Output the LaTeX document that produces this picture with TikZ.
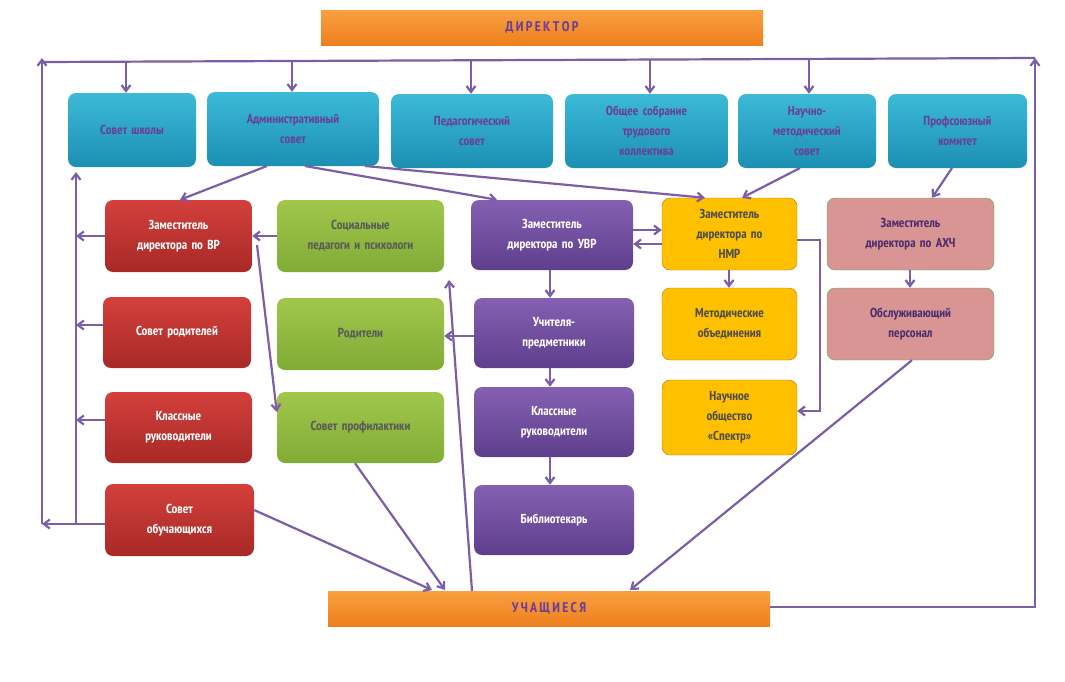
\documentclass[tikz,border=0pt]{standalone}
\usepackage{fontspec}
\setmainfont{PT Sans Narrow}[BoldFont={PT Sans Narrow Bold}]
\usetikzlibrary{arrows.meta,calc}
\definecolor{ar}{HTML}{7B5EA7}
\definecolor{txp}{HTML}{6A3D9A}
\definecolor{bl1}{HTML}{3CBAD8}\definecolor{bl2}{HTML}{1C8FB2}
\definecolor{rd1}{HTML}{D3403C}\definecolor{rd2}{HTML}{A82926}
\definecolor{gr1}{HTML}{A2C64C}\definecolor{gr2}{HTML}{80AC36}
\definecolor{pu1}{HTML}{8560B2}\definecolor{pu2}{HTML}{5E3F8C}
\definecolor{or1}{HTML}{F9A040}\definecolor{or2}{HTML}{EE7F1E}
\newcommand{\bx}[7]{\node[#6,minimum width={(#4-#2)*1pt},minimum height={(#5-#3)*1pt},text width={(#4-#2-8)*1pt}] (#1) at ({(#2+#4)/2},{(#3+#5)/2}) {#7};}
\begin{document}
\begin{tikzpicture}[x=1pt,y=-1pt,
 base/.style={rounded corners=8pt,align=center,font=\fontsize{13}{20}\selectfont\bfseries,inner sep=2pt},
 blue/.style={base,top color=bl1,bottom color=bl2,text=txp,draw=none},
 red/.style={base,top color=rd1,bottom color=rd2,text=white},
 green/.style={base,top color=gr1,bottom color=gr2,text=black!65},
 purp/.style={base,top color=pu1,bottom color=pu2,text=white},
 yel/.style={base,fill={rgb,255:red,255;green,192;blue,0},draw={rgb,255:red,200;green,110;blue,0},text=black!70},
 pink/.style={base,fill={rgb,255:red,217;green,149;blue,148},draw=green!40!gray,text=txp!70!black},
 orng/.style={base,rounded corners=0pt,top color=or1,bottom color=or2,text=txp,font=\fontsize{14}{16}\selectfont\bfseries},
 con/.style={draw=ar,line width=2.2pt},
 arr/.style={con,-{Straight Barb[length=6pt,width=9pt]}}]
\useasboundingbox (0,0) rectangle (1065,681);
\bx{dir}{321}{10}{763}{45}{orng}{Д\,И\,Р\,Е\,К\,Т\,О\,Р}
\bx{ss}{68}{93}{196}{167}{blue}{Совет школы}
\bx{adm}{207}{92}{379}{166}{blue}{Административный\\ совет\\[12pt]}
\bx{ped}{391}{94}{553}{168}{blue}{Педагогический\\ совет}
\bx{obs}{565}{94}{728}{168}{blue}{Общее собрание\\ трудового\\ коллектива}
\bx{nms}{738}{94}{876}{168}{blue}{Научно-\\ методический\\ совет}
\bx{prof}{888}{94}{1027}{168}{blue}{Профсоюзный\\ комитет\\[12pt]}
\bx{vr}{105}{200}{252}{272}{red}{Заместитель\\ директора по ВР}
\bx{soc}{277}{200}{444}{272}{green}{Социальные\\ педагоги и психологи}
\bx{uvr}{471}{200}{633}{270}{purp}{Заместитель\\ директора по УВР}
\bx{nmr}{662}{198}{797}{270}{yel}{Заместитель\\ директора по\\ НМР}
\bx{ahch}{827}{198}{994}{270}{pink}{Заместитель\\ директора по АХЧ}
\bx{srod}{103}{297}{251}{368}{red}{Совет родителей}
\bx{rod}{277}{298}{444}{370}{green}{Родители}
\bx{uch}{474}{298}{634}{368}{purp}{Учителя-\\ предметники}
\bx{met}{662}{288}{797}{360}{yel}{Методические\\ объединения}
\bx{obsl}{827}{288}{994}{360}{pink}{Обслуживающий\\ персонал}
\bx{kr}{105}{392}{252}{463}{red}{Классные\\ руководители}
\bx{sprof}{277}{392}{444}{463}{green}{Совет профилактики}
\bx{kr2}{474}{387}{634}{457}{purp}{Классные\\ руководители}
\bx{nauch}{662}{380}{797}{455}{yel}{Научное\\ общество\\ «Спектр»}
\bx{sob}{105}{484}{254}{556}{red}{Совет\\ обучающихся}
\bx{bib}{474}{485}{634}{555}{purp}{Библиотекарь}
\bx{stud}{328}{591}{770}{626}{orng}{У\,Ч\,А\,Щ\,И\,Е\,С\,Я}
% top bus
\coordinate (tl) at (42,62); \coordinate (tr) at (1035,58);
\draw[con] (tl) -- (tr);
\foreach \n/\xx in {ss/126,adm/292,ped/471,obs/650,nms/809}
  \draw[arr] (\xx,{62-(\xx-42)*4/993}) -- (\n.north -| \xx,0);
% outer left
\coordinate (ol) at (42,524);
\draw[arr] (ol) -- (42,58);
\coordinate (il) at (76,524);
\draw[arr] (il) -- (76,172);
\draw[arr] (sob.west |- 0,524) -- (ol);
\draw[arr] (vr.west) -- (76,236);
\draw[arr] (srod.west |- 0,325) -- (76,325);
\draw[arr] (kr.west |- 0,420) -- (76,420);
% admin links
\draw[arr] (267,166) -- (vr.north -| 180,0);
\draw[arr] (305,166) -- (uvr.north -| 497,0);
\draw[arr] (365,166) -- (nmr.north -| 705,0);
\draw[arr] (800,168) -- (nmr.north -| 742,0);
\draw[arr] (952,168) -- (ahch.north -| 932,0);
\draw[arr] (soc.west) -- (vr.east);
\draw[arr] (uvr.east |- 0,230) -- (nmr.west |- 0,230);
\draw[arr] (nmr.west |- 0,244) -- (uvr.east |- 0,244);
\draw[arr] (257,245) -- (sprof.west |- 0,412);
\draw[arr] (uvr.south -| 550,0) -- (uch.north -| 550,0);
\draw[arr] (uch.south -| 550,0) -- (kr2.north -| 550,0);
\draw[arr] (kr2.south -| 550,0) -- (bib.north -| 550,0);
\draw[arr] (uch.west |- 0,336) -- (rod.east |- 0,336);
\draw[arr] (nmr.south -| 729,0) -- (met.north -| 729,0);
\draw[arr] (ahch.south -| 910,0) -- (obsl.north -| 910,0);
\draw[arr] (nmr.east |- 0,240) -| (820,411) -- (nauch.east |- 0,411);
\draw[arr] (obsl.south -| 912,0) -- (630,590);
\draw[arr] (sob.east |- 0,510) -- (432,590);
\draw[arr] (sprof.south -| 355,0) -- (445,590);
\draw[arr] (stud.north -| 472,0) -- (449,280);
\draw[arr] (stud.east |- 0,607) -| (tr);
\end{tikzpicture}
\end{document}
